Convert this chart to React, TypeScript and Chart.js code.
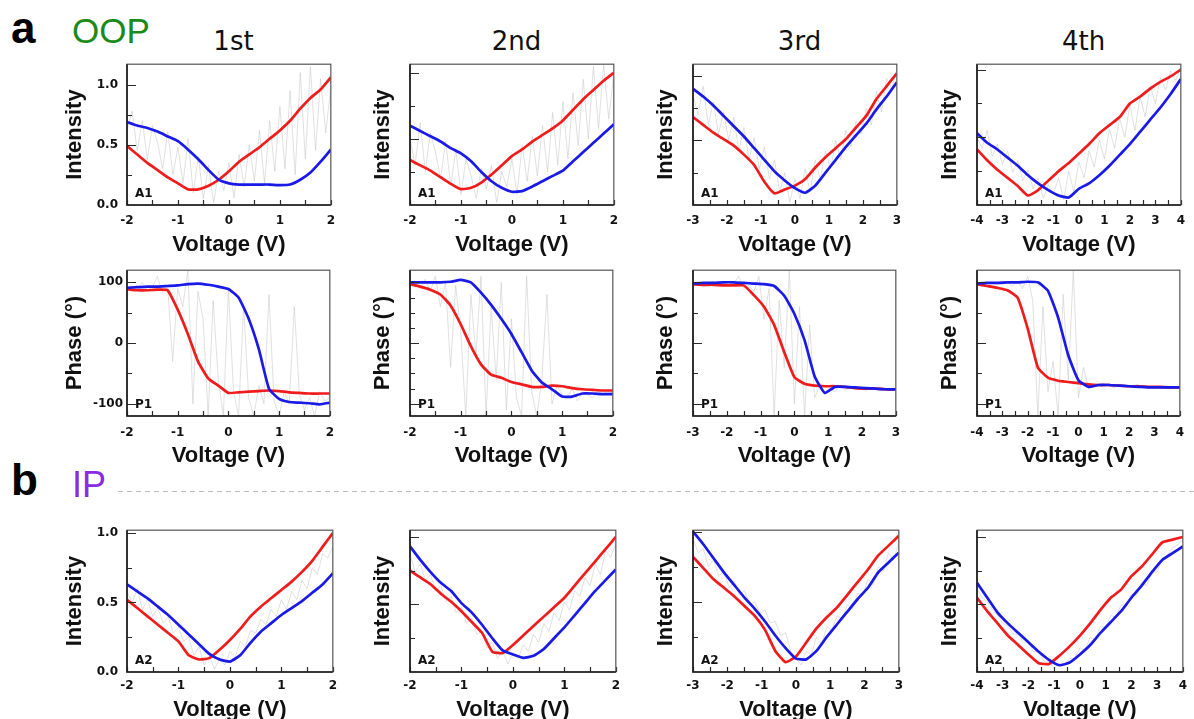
import React, { useEffect, useRef } from "react";
import { Chart, registerables } from "chart.js";

Chart.register(...registerables);

// ---------------- sample grids (V) ----------------
const voltsA = [-2, -1.8, -1.6, -1.4, -1.2, -1, -0.8, -0.6, -0.4, -0.2, 0, 0.2, 0.4, 0.6, 0.8, 1, 1.2, 1.4, 1.6, 1.8, 2];
const voltsB = [-3, -2.7, -2.4, -2.1, -1.8, -1.5, -1.2, -0.9, -0.6, -0.3, 0, 0.3, 0.6, 0.9, 1.2, 1.5, 1.8, 2.1, 2.4, 2.7, 3];
const voltsC = [-4, -3.6, -3.2, -2.8, -2.4, -2, -1.6, -1.2, -0.8, -0.4, 0, 0.4, 0.8, 1.2, 1.6, 2, 2.4, 2.8, 3.2, 3.6, 4];
const rawVoltsA = [-2, -1.9, -1.8, -1.7, -1.6, -1.5, -1.4, -1.3, -1.2, -1.1, -1, -0.9, -0.8, -0.7, -0.6, -0.5, -0.4, -0.3, -0.2, -0.1, 0, 0.1, 0.2, 0.3, 0.4, 0.5, 0.6, 0.7, 0.8, 0.9, 1, 1.1, 1.2, 1.3, 1.4, 1.5, 1.6, 1.7, 1.8, 1.9, 2];
const rawVoltsB = [-3, -2.85, -2.7, -2.55, -2.4, -2.25, -2.1, -1.95, -1.8, -1.65, -1.5, -1.35, -1.2, -1.05, -0.9, -0.75, -0.6, -0.45, -0.3, -0.15, 0, 0.15, 0.3, 0.45, 0.6, 0.75, 0.9, 1.05, 1.2, 1.35, 1.5, 1.65, 1.8, 1.95, 2.1, 2.25, 2.4, 2.55, 2.7, 2.85, 3];
const rawVoltsC = [-4, -3.8, -3.6, -3.4, -3.2, -3, -2.8, -2.6, -2.4, -2.2, -2, -1.8, -1.6, -1.4, -1.2, -1, -0.8, -0.6, -0.4, -0.2, 0, 0.2, 0.4, 0.6, 0.8, 1, 1.2, 1.4, 1.6, 1.8, 2, 2.2, 2.4, 2.6, 2.8, 3, 3.2, 3.4, 3.6, 3.8, 4];

// tick positions (V)
const xTicksA = [-2, -1.5, -1, -0.5, 0, 0.5, 1, 1.5, 2];
const xTicksB = [-3, -2.5, -2, -1.5, -1, -0.5, 0, 0.5, 1, 1.5, 2, 2.5, 3];
const xTicksC = [-4, -3.5, -3, -2.5, -2, -1.5, -1, -0.5, 0, 0.5, 1, 1.5, 2, 2.5, 3, 3.5, 4];

// ---------------- OOP amplitude A1 ----------------
const a1FirstRed = [0.49, 0.42, 0.35, 0.29, 0.23, 0.18, 0.13, 0.13, 0.16, 0.21, 0.28, 0.36, 0.42, 0.48, 0.55, 0.62, 0.7, 0.8, 0.89, 0.96, 1.06];
const a1FirstBlue = [0.69, 0.66, 0.64, 0.61, 0.57, 0.53, 0.46, 0.38, 0.29, 0.21, 0.18, 0.17, 0.17, 0.17, 0.17, 0.165, 0.17, 0.21, 0.27, 0.36, 0.46];
const a1FirstRaw = [0.62, 0.78, 0.45, 0.7, 0.38, 0.66, 0.52, 0.3, 0.61, 0.25, 0.48, 0.18, 0.55, 0.1, 0.4, 0.05, 0.33, 0.02, 0.28, 0.12, 0.35, 0.06, 0.42, 0.15, 0.5, 0.2, 0.62, 0.18, 0.7, 0.28, 0.82, 0.3, 0.95, 0.25, 1.1, 0.38, 1.15, 0.45, 1.05, 0.6, 0.98];

const a1SecondRed = [0.34, 0.3, 0.26, 0.21, 0.16, 0.12, 0.13, 0.17, 0.23, 0.3, 0.37, 0.42, 0.48, 0.53, 0.58, 0.64, 0.72, 0.8, 0.87, 0.94, 1.0];
const a1SecondBlue = [0.6, 0.56, 0.52, 0.48, 0.43, 0.39, 0.33, 0.25, 0.18, 0.13, 0.1, 0.105, 0.14, 0.18, 0.22, 0.26, 0.33, 0.4, 0.47, 0.54, 0.61];
const a1SecondRaw = [0.5, 0.3, 0.62, 0.25, 0.55, 0.4, 0.2, 0.48, 0.15, 0.42, 0.08, 0.35, 0.22, 0.05, 0.28, 0.12, 0.3, 0.02, 0.25, 0.14, 0.35, 0.08, 0.45, 0.18, 0.52, 0.22, 0.6, 0.25, 0.7, 0.3, 0.78, 0.35, 0.85, 0.45, 0.95, 0.5, 1.05, 0.58, 1.06, 0.65, 1.0];

const a1ThirdRed = [0.68, 0.62, 0.56, 0.51, 0.46, 0.39, 0.31, 0.18, 0.09, 0.12, 0.15, 0.2, 0.29, 0.37, 0.44, 0.51, 0.6, 0.69, 0.82, 0.92, 1.02];
const a1ThirdBlue = [0.9, 0.84, 0.77, 0.69, 0.61, 0.53, 0.44, 0.35, 0.26, 0.19, 0.13, 0.095, 0.15, 0.25, 0.35, 0.45, 0.54, 0.63, 0.74, 0.84, 0.95];
const a1ThirdRaw = [0.85, 0.7, 0.92, 0.62, 0.8, 0.55, 0.72, 0.5, 0.68, 0.42, 0.6, 0.35, 0.52, 0.28, 0.45, 0.2, 0.35, 0.1, 0.25, 0.02, 0.2, 0.05, 0.28, 0.1, 0.35, 0.2, 0.42, 0.28, 0.5, 0.35, 0.58, 0.45, 0.65, 0.55, 0.75, 0.62, 0.88, 0.72, 0.98, 0.9, 1.05];

const a1FourthRed = [0.41, 0.33, 0.26, 0.2, 0.14, 0.07, 0.11, 0.18, 0.25, 0.31, 0.38, 0.45, 0.53, 0.59, 0.65, 0.75, 0.8, 0.86, 0.91, 0.95, 1.0];
const a1FourthBlue = [0.53, 0.46, 0.41, 0.35, 0.29, 0.22, 0.16, 0.11, 0.07, 0.055, 0.12, 0.16, 0.22, 0.29, 0.37, 0.45, 0.54, 0.63, 0.72, 0.82, 0.93];
const a1FourthRaw = [0.5, 0.42, 0.55, 0.36, 0.45, 0.3, 0.4, 0.24, 0.33, 0.18, 0.26, 0.12, 0.2, 0.05, 0.15, 0.08, 0.2, 0.04, 0.25, 0.1, 0.32, 0.2, 0.4, 0.28, 0.48, 0.34, 0.56, 0.42, 0.64, 0.5, 0.74, 0.55, 0.8, 0.65, 0.88, 0.75, 0.94, 0.85, 0.99, 0.92, 1.02];

// ---------------- OOP phase P1 ----------------
const p1FirstRed = [89, 87, 87, 88, 87, 55, 15, -30, -58, -70, -82, -81, -80, -79, -78, -79, -81, -82, -83, -83, -83];
const p1FirstBlue = [91, 92, 93, 93, 94, 95, 97, 98, 96, 93, 89, 75, 40, -10, -75, -92, -97, -98, -99, -101, -98];
const p1FirstRaw = [90, 95, 85, 100, 88, 92, 110, 82, 95, -30, 90, 60, 120, -100, 85, 40, -120, 70, -60, -120, 90, -80, -120, 60, -90, -120, -70, -100, 80, -95, -120, -80, -100, 60, -85, -110, -90, -120, -80, -95, -90];

const p1SecondRed = [97, 93, 88, 80, 62, 31, -5, -35, -52, -57, -64, -68, -72, -72, -70, -71, -74, -76, -77, -78, -78];
const p1SecondBlue = [100, 100, 100, 100, 101, 104, 100, 83, 63, 40, 15, -15, -45, -65, -76, -88, -88, -83, -83, -84, -84];
const p1SecondRaw = [95, 100, 90, 105, 85, 110, 60, 100, -40, 95, 20, -120, 80, -20, 110, -120, 60, -60, 100, -110, 40, -90, -120, 110, -80, -120, -60, 80, -100, -70, -85, -90, -75, -95, -80, -85, -90, -78, -85, -80, -82];

const p1ThirdRed = [97, 96, 96, 95, 95, 95, 79, 60, 30, -15, -56, -67, -70, -71, -71, -72, -74, -75, -75, -76, -76];
const p1ThirdBlue = [98, 99, 99, 100, 100, 99, 98, 97, 94, 78, 48, 5, -55, -82, -72, -72, -73, -74, -75, -76, -76];
const p1ThirdRaw = [95, 100, 92, 98, 102, 94, 100, 96, 98, 110, 90, 95, 85, 110, 40, 90, -120, 70, -40, 120, -100, 60, -120, 30, -90, -70, -85, -75, -80, -70, -78, -72, -76, -70, -78, -74, -76, -72, -78, -75, -76];

const p1FourthRed = [97, 94, 91, 87, 75, 24, -40, -57, -62, -64, -66, -68, -69, -69, -70, -71, -71, -72, -72, -73, -73];
const p1FourthBlue = [98, 99, 99, 100, 100, 101, 100, 86, 42, -20, -61, -72, -69, -69, -70, -71, -72, -73, -73, -73, -73];
const p1FourthRaw = [98, 95, 100, 92, 99, 96, 100, 94, 102, 90, 110, 70, -120, 60, -80, -30, -120, 80, -60, 120, -90, -40, -75, -70, -68, -72, -66, -74, -68, -70, -72, -69, -73, -70, -71, -74, -72, -73, -71, -74, -73];

// ---------------- IP amplitude A2 ----------------
const a2FirstRed = [0.52, 0.46, 0.4, 0.34, 0.28, 0.22, 0.12, 0.09, 0.1, 0.16, 0.23, 0.31, 0.4, 0.47, 0.53, 0.59, 0.65, 0.72, 0.8, 0.9, 1.0];
const a2FirstBlue = [0.63, 0.58, 0.53, 0.47, 0.41, 0.34, 0.27, 0.2, 0.13, 0.09, 0.075, 0.12, 0.21, 0.29, 0.35, 0.41, 0.46, 0.51, 0.57, 0.63, 0.71];
const a2FirstRaw = [0.58, 0.5, 0.6, 0.45, 0.52, 0.4, 0.46, 0.35, 0.4, 0.28, 0.32, 0.22, 0.25, 0.12, 0.18, 0.05, 0.12, 0.02, 0.1, 0.05, 0.15, 0.1, 0.22, 0.18, 0.3, 0.28, 0.38, 0.34, 0.45, 0.4, 0.52, 0.45, 0.58, 0.52, 0.66, 0.6, 0.75, 0.7, 0.85, 0.82, 0.9];

const a2SecondRed = [0.75, 0.7, 0.65, 0.58, 0.52, 0.45, 0.37, 0.29, 0.15, 0.14, 0.2, 0.27, 0.34, 0.41, 0.48, 0.55, 0.64, 0.73, 0.82, 0.91, 1.0];
const a2SecondBlue = [0.93, 0.83, 0.74, 0.66, 0.6, 0.51, 0.44, 0.35, 0.25, 0.16, 0.13, 0.105, 0.12, 0.17, 0.25, 0.33, 0.42, 0.51, 0.6, 0.68, 0.76];
const a2SecondRaw = [0.88, 0.74, 0.8, 0.68, 0.72, 0.6, 0.64, 0.52, 0.56, 0.44, 0.48, 0.36, 0.4, 0.28, 0.3, 0.18, 0.22, 0.1, 0.16, 0.06, 0.14, 0.1, 0.2, 0.15, 0.28, 0.22, 0.36, 0.3, 0.44, 0.38, 0.52, 0.46, 0.6, 0.56, 0.7, 0.64, 0.8, 0.72, 0.9, 0.85, 0.95];

const a2ThirdRed = [0.82, 0.74, 0.66, 0.6, 0.54, 0.47, 0.4, 0.3, 0.15, 0.07, 0.11, 0.21, 0.31, 0.39, 0.46, 0.55, 0.64, 0.73, 0.83, 0.9, 0.97];
const a2ThirdBlue = [1.0, 0.91, 0.81, 0.71, 0.62, 0.53, 0.45, 0.36, 0.26, 0.17, 0.095, 0.09, 0.15, 0.25, 0.34, 0.43, 0.52, 0.6, 0.71, 0.78, 0.85];
const a2ThirdRaw = [0.95, 0.85, 0.88, 0.75, 0.8, 0.68, 0.72, 0.6, 0.65, 0.55, 0.58, 0.48, 0.5, 0.42, 0.44, 0.35, 0.36, 0.26, 0.28, 0.15, 0.1, 0.05, 0.15, 0.12, 0.25, 0.2, 0.32, 0.3, 0.4, 0.38, 0.48, 0.45, 0.56, 0.55, 0.66, 0.62, 0.75, 0.72, 0.85, 0.8, 0.92];

const a2FourthRed = [0.55, 0.45, 0.36, 0.27, 0.2, 0.13, 0.065, 0.06, 0.12, 0.19, 0.27, 0.36, 0.46, 0.55, 0.61, 0.71, 0.78, 0.87, 0.96, 0.98, 1.0];
const a2FourthBlue = [0.66, 0.55, 0.44, 0.36, 0.29, 0.22, 0.15, 0.09, 0.05, 0.07, 0.13, 0.2, 0.29, 0.37, 0.45, 0.55, 0.64, 0.74, 0.83, 0.88, 0.93];
const a2FourthRaw = [0.62, 0.55, 0.52, 0.46, 0.42, 0.36, 0.34, 0.28, 0.28, 0.22, 0.22, 0.15, 0.15, 0.08, 0.08, 0.03, 0.06, 0.05, 0.1, 0.1, 0.18, 0.16, 0.26, 0.24, 0.34, 0.33, 0.42, 0.4, 0.5, 0.48, 0.58, 0.56, 0.66, 0.64, 0.74, 0.74, 0.84, 0.86, 0.92, 0.94, 0.98];

// ---------------- labels ----------------
const columnTitles = ["1st", "2nd", "3rd", "4th"];
const xTitle = "Voltage (V)";
const ampTitle = "Intensity";
const phaseTitle = "Phase (°)";

// ---------------- styling / geometry ----------------
const INK = "#111111";
const RED = "#f01c1c";
const BLUE = "#1a1ae8";
const GRAY = "rgba(200,200,200,0.7)";
const SANS = '"Liberation Sans", Arial, Helvetica, sans-serif';
const TICKFONT = '"DejaVu Sans", Verdana, sans-serif';

const PLOT_L = [127, 410, 693, 977];
const PLOT_W = 213;
const PLOT_T = [56, 267, 522];
const PLOT_H = [149, 149, 150];
const AXIS_W = 75;
const AXIS_H = 56;
const PAD_T = 8;
const PAD_R = 4;
const X_TICK_PAD = [9, 10, 7];
const X_TITLE_PAD = [3, 3, 5];

type PanelSpec = {
  row: number;
  col: number;
  xs: number[];
  xr: number[];
  red: number[];
  blue: number[];
  raw: number[];
  xTicks: number[];
  xRange: number;
  yMin: number;
  yMax: number;
  yStep: number;
  yMajor: number[];
  yMinor: number[];
  phase: boolean;
  tag: string;
};

const ampMajor = [0.5, 1.0];
const ampMinor = [0.25, 0.75];
const phMajor = [-100, 0, 100];
const phMinor = [-50, 50];
const phMinorFine = [-75, -50, -25, 25, 50, 75];

const amp = (row: number, col: number, xs: number[], xr: number[], red: number[], blue: number[], raw: number[], xTicks: number[], xRange: number, yMax: number, tag: string): PanelSpec => ({
  row, col, xs, xr, red, blue, raw, xTicks, xRange, yMin: 0, yMax, yStep: 0.5, yMajor: ampMajor, yMinor: ampMinor, phase: false, tag,
});
const ph = (col: number, xs: number[], xr: number[], red: number[], blue: number[], raw: number[], xTicks: number[], xRange: number, minor: number[]): PanelSpec => ({
  row: 1, col, xs, xr, red, blue, raw, xTicks, xRange, yMin: -120, yMax: 120, yStep: 100, yMajor: phMajor, yMinor: minor, phase: true, tag: "P1",
});

const PANELS: PanelSpec[] = [
  amp(0, 0, voltsA, rawVoltsA, a1FirstRed, a1FirstBlue, a1FirstRaw, xTicksA, 2, 1.17, "A1"),
  amp(0, 1, voltsA, rawVoltsA, a1SecondRed, a1SecondBlue, a1SecondRaw, xTicksA, 2, 1.065, "A1"),
  amp(0, 2, voltsB, rawVoltsB, a1ThirdRed, a1ThirdBlue, a1ThirdRaw, xTicksB, 3, 1.09, "A1"),
  amp(0, 3, voltsC, rawVoltsC, a1FourthRed, a1FourthBlue, a1FourthRaw, xTicksC, 4, 1.04, "A1"),
  ph(0, voltsA, rawVoltsA, p1FirstRed, p1FirstBlue, p1FirstRaw, xTicksA, 2, phMinor),
  ph(1, voltsA, rawVoltsA, p1SecondRed, p1SecondBlue, p1SecondRaw, xTicksA, 2, phMinorFine),
  ph(2, voltsB, rawVoltsB, p1ThirdRed, p1ThirdBlue, p1ThirdRaw, xTicksB, 3, phMinor),
  ph(3, voltsC, rawVoltsC, p1FourthRed, p1FourthBlue, p1FourthRaw, xTicksC, 4, phMinor),
  amp(2, 0, voltsA, rawVoltsA, a2FirstRed, a2FirstBlue, a2FirstRaw, xTicksA, 2, 1.02, "A2"),
  amp(2, 1, voltsA, rawVoltsA, a2SecondRed, a2SecondBlue, a2SecondRaw, xTicksA, 2, 1.05, "A2"),
  amp(2, 2, voltsB, rawVoltsB, a2ThirdRed, a2ThirdBlue, a2ThirdRaw, xTicksB, 3, 1.01, "A2"),
  amp(2, 3, voltsC, rawVoltsC, a2FourthRed, a2FourthBlue, a2FourthRaw, xTicksC, 4, 1.05, "A2"),
];

const toPts = (xs: number[], ys: number[]) => xs.map((x, i) => ({ x, y: ys[i] }));

const panelDecor = {
  id: "panelDecor",
  afterDatasetsDraw(chart: any, _args: any, opts: any) {
    const { ctx, chartArea } = chart;
    const { left, right, top, bottom } = chartArea;
    const xs = chart.scales.x;
    const ys = chart.scales.y;
    ctx.save();
    ctx.strokeStyle = "#2a2a2a";
    ctx.lineWidth = 1.2;
    ctx.beginPath();
    for (const v of opts.xTicks) {
      const px = Math.round(xs.getPixelForValue(v)) + 0.5;
      ctx.moveTo(px, bottom);
      ctx.lineTo(px, bottom - 5);
    }
    for (const v of opts.yMajor) {
      const py = Math.round(ys.getPixelForValue(v)) + 0.5;
      ctx.moveTo(left, py);
      ctx.lineTo(left + 9, py);
    }
    for (const v of opts.yMinor) {
      const py = Math.round(ys.getPixelForValue(v)) + 0.5;
      ctx.moveTo(left, py);
      ctx.lineTo(left + 5, py);
    }
    ctx.stroke();
    // frame
    ctx.strokeStyle = "#555555";
    ctx.lineWidth = 1.2;
    ctx.strokeRect(left, top, right - left, bottom - top);
    ctx.strokeStyle = "#1a1a1a";
    ctx.lineWidth = 1.6;
    ctx.beginPath();
    ctx.moveTo(left, top);
    ctx.lineTo(left, bottom);
    ctx.lineTo(right, bottom);
    ctx.stroke();
    // tag
    ctx.fillStyle = INK;
    ctx.font = `bold 12px ${TICKFONT}`;
    ctx.textBaseline = "alphabetic";
    ctx.textAlign = "left";
    ctx.fillText(opts.tag, left + 8, bottom - 8);
    ctx.restore();
  },
};

function Panel({ p }: { p: PanelSpec }) {
  const ref = useRef<HTMLCanvasElement>(null);
  const width = AXIS_W + PLOT_W + PAD_R;
  const height = PAD_T + PLOT_H[p.row] + AXIS_H;
  const left = PLOT_L[p.col] - AXIS_W;
  const top = PLOT_T[p.row] - PAD_T;

  useEffect(() => {
    const showY = p.col === 0;
    const chart = new Chart(ref.current as HTMLCanvasElement, {
      type: "line",
      data: {
        datasets: [
          { data: toPts(p.xs, p.blue), borderColor: BLUE, borderWidth: 2.7, pointRadius: 0, tension: 0.15 },
          { data: toPts(p.xs, p.red), borderColor: RED, borderWidth: 2.7, pointRadius: 0, tension: 0.15 },
          { data: toPts(p.xr, p.raw), borderColor: GRAY, borderWidth: 0.8, pointRadius: 0, tension: 0 },
        ],
      },
      options: {
        animation: false,
        responsive: false,
        maintainAspectRatio: false,
        events: [],
        layout: { padding: { left: 0, top: PAD_T, right: PAD_R, bottom: 0 } },
        plugins: {
          legend: { display: false },
          tooltip: { enabled: false },
          panelDecor: { xTicks: p.xTicks, yMajor: p.yMajor, yMinor: p.yMinor, tag: p.tag },
        } as any,
        scales: {
          x: {
            type: "linear",
            min: -p.xRange,
            max: p.xRange,
            afterFit: (s: any) => {
              s.height = AXIS_H;
            },
            grid: { display: false, drawTicks: false },
            border: { display: false },
            ticks: {
              stepSize: 1,
              autoSkip: false,
              maxRotation: 0,
              includeBounds: false,
              padding: X_TICK_PAD[p.row],
              color: INK,
              font: { family: TICKFONT, size: 12, weight: "bold" },
              callback: (v: any) => String(v),
            },
            title: {
              display: true,
              text: xTitle,
              color: INK,
              font: { family: SANS, size: 22, weight: "bold" },
              padding: { top: 0, bottom: X_TITLE_PAD[p.row] },
            },
          },
          y: {
            type: "linear",
            min: p.yMin,
            max: p.yMax,
            afterFit: (s: any) => {
              s.width = AXIS_W;
            },
            grid: { display: false, drawTicks: false },
            border: { display: false },
            ticks: {
              stepSize: p.yStep,
              autoSkip: false,
              includeBounds: false,
              padding: p.phase ? 4 : 9,
              color: INK,
              font: { family: TICKFONT, size: 12, weight: "bold" },
              callback: (v: any) => (showY ? (p.phase ? String(v) : Number(v).toFixed(1)) : ""),
            },
            title: {
              display: true,
              text: p.phase ? phaseTitle : ampTitle,
              color: INK,
              font: { family: SANS, size: 22, weight: "bold" },
              padding: { top: showY ? 10 : 35, bottom: 0 },
            },
          },
        },
      } as any,
      plugins: [panelDecor as any],
    });
    return () => chart.destroy();
  }, [p]);

  return (
    <canvas
      ref={ref}
      width={width}
      height={height}
      style={{ position: "absolute", left, top, width, height }}
    />
  );
}

export default function App() {
  useEffect(() => {
    document.body.style.margin = "0";
    document.body.style.overflow = "hidden";
  }, []);
  const abs = (l: number, t: number): React.CSSProperties => ({ position: "absolute", left: l, top: t, lineHeight: 1, whiteSpace: "nowrap" });
  return (
    <div style={{ position: "absolute", left: 0, top: 0, width: 1194, height: 719, overflow: "hidden", background: "#ffffff" }}>
      <div style={{ ...abs(11, 6), fontFamily: SANS, fontWeight: "bold", fontSize: 44, color: "#000" }}>a</div>
      <div style={{ ...abs(72, 13), fontFamily: SANS, fontSize: 35, color: "#1a8a1a" }}>OOP</div>
      <div style={{ ...abs(11, 458), fontFamily: SANS, fontWeight: "bold", fontSize: 44, color: "#000" }}>b</div>
      <div style={{ ...abs(72, 467), fontFamily: SANS, fontSize: 36, color: "#8a2be2" }}>IP</div>
      <div
        style={{
          position: "absolute",
          left: 118,
          top: 491,
          width: 1076,
          height: 1,
          background: "repeating-linear-gradient(to right, #bdbdbd 0 5px, transparent 5px 9px)",
        }}
      />
      {columnTitles.map((t, i) => (
        <div
          key={t}
          style={{
            ...abs(PLOT_L[i], 28),
            width: PLOT_W,
            textAlign: "center",
            fontFamily: TICKFONT,
            fontSize: 26,
            color: INK,
          }}
        >
          {t}
        </div>
      ))}
      {PANELS.map((p, i) => (
        <Panel key={i} p={p} />
      ))}
    </div>
  );
}
